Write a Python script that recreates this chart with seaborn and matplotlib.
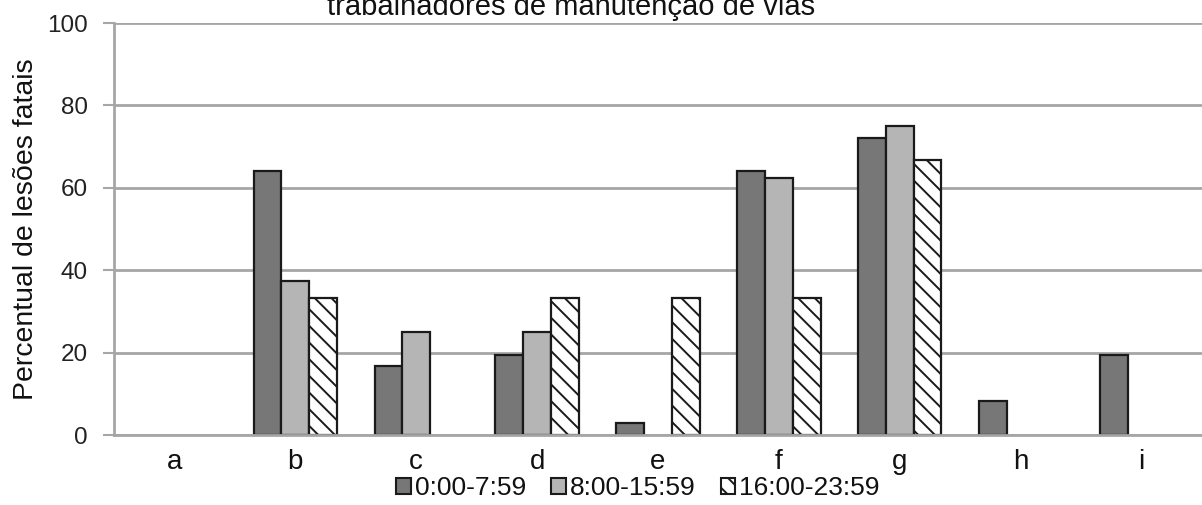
import matplotlib
matplotlib.use("Agg")
import matplotlib.pyplot as plt
import seaborn as sns
import pandas as pd
import numpy as np
from matplotlib.patches import Patch

categories = ["a", "b", "c", "d", "e", "f", "g", "h", "i"]
series_names = ["0:00-7:59", "8:00-15:59", "16:00-23:59"]
night = [0, 64, 16.7, 19.5, 2.8, 64, 72.2, 8.3, 19.5]
day = [0, 37.5, 25, 25, 0, 62.5, 75, 0, 0]
evening = [0, 33.3, 0, 33.3, 33.3, 33.3, 66.7, 0, 0]
y_ticks = [0, 20, 40, 60, 80, 100]

rows = []
for name, vals in zip(series_names, [night, day, evening]):
    for c, v in zip(categories, vals):
        rows.append({"cat": c, "serie": name, "val": v})
df = pd.DataFrame(rows)

sns.set_theme(style="white")
plt.rcParams["font.family"] = ["Liberation Sans", "DejaVu Sans"]
plt.rcParams["hatch.linewidth"] = 1.4

fig = plt.figure(figsize=(12.02, 5.05), dpi=100)
ax = fig.add_axes([114 / 1202, 70 / 505, (1202 - 114) / 1202, 412 / 505])

colors = ["#777777", "#b5b5b5", "#ffffff"]
sns.barplot(data=df, x="cat", y="val", hue="serie", hue_order=series_names,
            order=categories, palette=colors, width=0.69, edgecolor="#1a1a1a",
            linewidth=1.6, saturation=1, ax=ax, legend=False)

for cont, name in zip(ax.containers, series_names):
    for bar in cont:
        if name == series_names[2]:
            bar.set_hatch("\\\\")
        if bar.get_height() == 0:
            bar.set_visible(False)

ax.set_ylim(0, 100)
ax.set_xlim(-0.5, 8.5)
ax.set_yticks(y_ticks)
ax.yaxis.grid(True, color="#a6a6a6", linewidth=2)
ax.set_axisbelow(True)
for s in ["top", "right"]:
    ax.spines[s].set_visible(False)
for s in ["left", "bottom"]:
    ax.spines[s].set_color("#a6a6a6")
    ax.spines[s].set_linewidth(2)
ax.set_xticks(np.arange(-0.5, 9, 1), minor=True)
ax.tick_params(axis="x", which="major", length=0, labelsize=20, pad=10, colors="#111111")
ax.tick_params(axis="x", which="minor", length=7, width=1.5, color="#a6a6a6", direction="out")
ax.tick_params(axis="y", length=8, width=1.5, color="#a6a6a6", direction="out",
               labelsize=17.5, pad=11, labelcolor="#222222")
ax.tick_params(left=True, bottom=True)
ax.set_xlabel("")
ax.set_ylabel("Percentual de lesões fatais", fontsize=20.5, color="#111111")
ax.yaxis.set_label_coords(-75 / 1088, 0.5)

handles = [Patch(facecolor=colors[0], edgecolor="#1a1a1a", linewidth=1.5),
           Patch(facecolor=colors[1], edgecolor="#1a1a1a", linewidth=1.5),
           Patch(facecolor=colors[2], edgecolor="#1a1a1a", linewidth=1.5, hatch="\\\\")]
fig.legend(handles, series_names, loc="center", bbox_to_anchor=(638 / 1202, 1 - 488 / 505),
           ncol=3, frameon=False, fontsize=19, handlelength=0.55, handleheight=0.55,
           handletextpad=0.15, columnspacing=0.95, borderpad=0, labelcolor="#111111")

fig.text(571 / 1202, 1 - 15 / 505, "trabalhadores de manutenção de vias",
         ha="center", va="baseline", fontsize=21, color="#111111")

fig.savefig("out.png", dpi=100)
